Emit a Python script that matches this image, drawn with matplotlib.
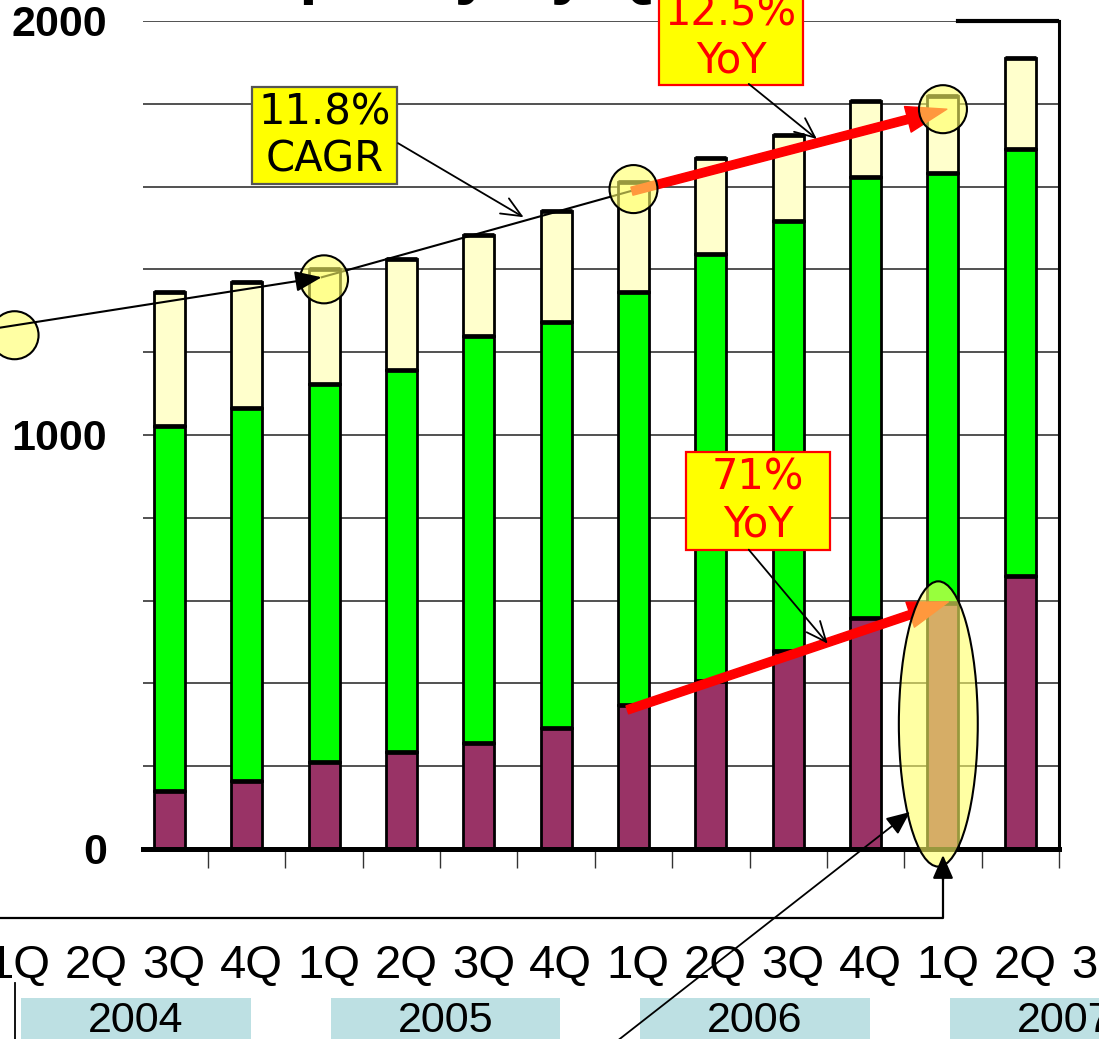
import numpy as np
import matplotlib.pyplot as plt
from matplotlib import transforms
from matplotlib.patches import Rectangle, Ellipse, FancyArrowPatch
from matplotlib.lines import Line2D

plt.rcParams['font.family'] = ['Liberation Sans', 'DejaVu Sans']

# quarterly capacity, stacked: purple base, green middle, cream top
quarters = ['3Q', '4Q', '1Q', '2Q', '3Q', '4Q', '1Q', '2Q', '3Q', '4Q', '1Q', '2Q']
purple = np.array([140, 164, 210, 235, 256, 293, 348, 406, 479, 559, 595, 660])
green = np.array([881, 902, 914, 923, 984, 981, 997, 1031, 1037, 1064, 1038, 1031])
cream = np.array([324, 303, 276, 266, 242, 266, 265, 232, 208, 184, 186, 220])

# trend points highlighted with circles (quarter index, value)
trend_x = [-2, 2, 6, 10]
trend_y = [1241, 1376, 1594, 1787]

# axis row of quarter names, starting one year before the first bar
row_labels = ['1Q', '2Q', '3Q', '4Q'] * 3 + ['1Q', '2Q', '3Q']
row_x = np.arange(-2, 13)
years = ['2004', '2005', '2006', '2007']
year_x = [-0.5, 3.5, 7.5, 11.5]

W, H = 1099, 1039
fig = plt.figure(figsize=(W / 100, H / 100), dpi=100)
ax = fig.add_axes([143 / W, 1 - 849 / H, 916 / W, 828 / H])

x = np.arange(len(quarters))
bw = 0.4
kw = dict(width=bw, edgecolor='black', linewidth=2, zorder=2)
ax.bar(x, purple, color='#993366', **kw)
ax.bar(x, green, bottom=purple, color='#00ff00', **kw)
ax.bar(x, cream, bottom=purple + green, color='#ffffcc', **kw)
# heavier rules on each segment top
for tops in (purple, purple + green, purple + green + cream):
    ax.hlines(tops, x - bw / 2, x + bw / 2, color='black', lw=3.4, zorder=3)

ax.set_xlim(-0.34, 11.48)
ax.set_ylim(0, 2000)
ax.set_yticks(np.arange(0, 2001, 200))
ax.set_yticklabels(['0', '', '', '', '', '1000', '', '', '', '', '2000'])
for lbl in ax.get_yticklabels():
    lbl.set_fontweight('bold')
ax.tick_params(axis='y', length=0, pad=26, labelsize=31)
ax.set_xticks(np.arange(0.5, 11.6, 1))
ax.tick_params(axis='x', direction='out', length=14, width=1, color='#333333',
               labelbottom=False)
ax.yaxis.grid(True, color='#333333', lw=1.2)
ax.set_axisbelow(True)
for s in ('left', 'top'):
    ax.spines[s].set_visible(False)
ax.spines['right'].set_linewidth(2.2)
ax.spines['bottom'].set_linewidth(3.6)
ax.plot([10.19, 11.48], [2000, 2000], color='black', lw=3, clip_on=False,
        solid_capstyle='projecting')

# CAGR trend line through the circled quarters
ax.annotate('', xy=(1.97, 1381), xytext=(-2.3, 1256), annotation_clip=False,
            arrowprops=dict(arrowstyle='-|>,head_length=0.9,head_width=0.35',
                            color='black', lw=1.5, mutation_scale=18,
                            shrinkA=0, shrinkB=0), zorder=7)
ax.plot([1.97, 5.98], [1381, 1590], color='black', lw=1.5, zorder=4)

# red growth arrows
red_style = 'simple,head_length=1.45,head_width=0.95,tail_width=0.3'
ax.annotate('', xy=(10.05, 1787), xytext=(5.98, 1589),
            arrowprops=dict(arrowstyle=red_style, color='red', mutation_scale=20,
                            shrinkA=0, shrinkB=0), zorder=5)
ax.annotate('', xy=(10.07, 597), xytext=(5.92, 336),
            arrowprops=dict(arrowstyle=red_style, color='red', mutation_scale=20,
                            shrinkA=0, shrinkB=0), zorder=5)

for tx, ty in zip(trend_x, trend_y):
    ax.add_patch(Ellipse((tx, ty), 0.62, 116, facecolor=(1, 1, 0.4, 0.6),
                         edgecolor='black', lw=1.5, zorder=6, clip_on=False))
ax.add_patch(Ellipse((9.94, 302), 1.02, 689, facecolor=(1, 1, 0.4, 0.6),
                     edgecolor='black', lw=1.5, zorder=6, clip_on=False))

# callout boxes
def callout(x0, x1, y0, y1, text, color, edge, ty, tip, start):
    ax.add_patch(Rectangle((x0, y0), x1 - x0, y1 - y0, facecolor='#ffff00',
                           edgecolor=edge, lw=1.6, zorder=7, clip_on=False))
    ax.text((x0 + x1) / 2, ty, text, ha='center', va='center', color=color,
            fontsize=30, family='DejaVu Sans', linespacing=1.15, zorder=8,
            clip_on=False)
    ax.annotate('', xy=tip, xytext=start,
                arrowprops=dict(arrowstyle='->,head_length=0.8,head_width=0.35',
                                color='black', lw=1.3, mutation_scale=18,
                                shrinkA=0, shrinkB=0), zorder=7)

callout(1.068, 2.939, 1606, 1840, '11.8%\nCAGR', 'black', '#555555', 1723,
        (4.58, 1526), (2.955, 1705))
callout(6.33, 8.19, 1845, 2080, '12.5%\nYoY', 'red', 'red', 1962,
        (8.37, 1715), (7.49, 1848))
callout(6.68, 8.54, 723, 958, '71%\nYoY', 'red', 'red', 840,
        (8.51, 496), (7.49, 723))

# title, cropped at the top edge
fig.text(214 / W, 1 + 9 / H, 'Capacity by Quarter', fontsize=48,
         fontweight='bold', ha='left', va='baseline')

# quarter and year rows under the chart
bt = transforms.blended_transform_factory(ax.transData, fig.transFigure)
for lx, lab in zip(row_x, row_labels):
    fig.text(lx + 0.06, 1 - 966 / H, lab, transform=bt, fontsize=34,
             ha='center', va='center')
for yx, yr in zip(year_x, years):
    fig.add_artist(Rectangle((yx + 0.07 - 1.485, -0.01), 2.97, 0.01 + 1 - 998 / H,
                             transform=bt, facecolor='#bde0e3', edgecolor='none'))
    fig.text(yx + 0.07, 1 - 1021 / H, yr, transform=bt, fontsize=31,
             ha='center', va='center')

def fp(px, py):
    return px / W, 1 - py / H

# bracket pointing up into the highlighted bar
fig.add_artist(Line2D([fp(0, 0)[0], fp(943, 0)[0], fp(943, 0)[0]],
                      [fp(0, 918)[1], fp(0, 918)[1], fp(0, 875)[1]],
                      transform=fig.transFigure, color='black', lw=1.6))
fig.add_artist(FancyArrowPatch(fp(943, 880), fp(943, 855), transform=fig.transFigure,
                               arrowstyle='-|>,head_length=0.8,head_width=0.35',
                               mutation_scale=18, color='black', lw=1.6,
                               shrinkA=0, shrinkB=0))
fig.add_artist(FancyArrowPatch(fp(612, 1045), fp(910, 812), transform=fig.transFigure,
                               arrowstyle='-|>,head_length=0.8,head_width=0.35',
                               mutation_scale=18, color='black', lw=1.3,
                               shrinkA=0, shrinkB=0))
fig.add_artist(Line2D([fp(15, 0)[0]] * 2, [fp(0, 983)[1], fp(0, 1039)[1]],
                      transform=fig.transFigure, color='black', lw=1.3))

fig.savefig('out.png', dpi=100)
